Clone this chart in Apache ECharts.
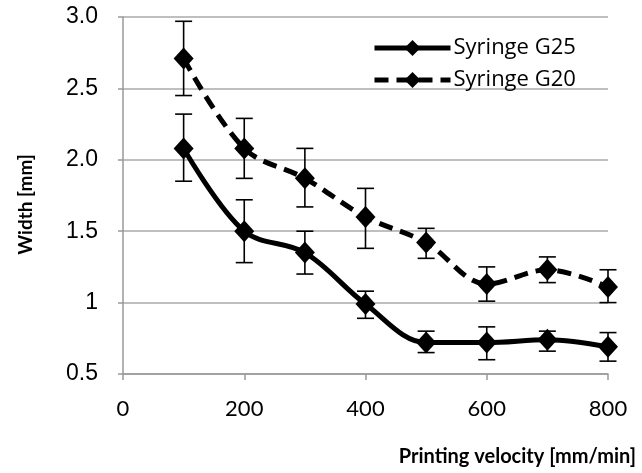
<!DOCTYPE html>
<html>
<head>
<meta charset="utf-8">
<script src="https://cdn.jsdelivr.net/npm/echarts@6/dist/echarts.min.js"></script>
<style>html,body{margin:0;padding:0;background:#fff}#c{width:642px;height:473px}</style>
</head>
<body>
<div id="c"></div>
<script>
var velocities = [100, 200, 300, 400, 500, 600, 700, 800];
var g25 = [2.08, 1.50, 1.35, 0.99, 0.72, 0.72, 0.74, 0.69];
var g25Low = [1.85, 1.28, 1.20, 0.89, 0.65, 0.60, 0.66, 0.59];
var g25High = [2.32, 1.72, 1.50, 1.08, 0.80, 0.83, 0.80, 0.79];
var g20 = [2.71, 2.08, 1.87, 1.60, 1.42, 1.13, 1.23, 1.11];
var g20Low = [2.45, 1.87, 1.67, 1.38, 1.31, 1.01, 1.14, 1.00];
var g20High = [2.97, 2.29, 2.08, 1.80, 1.52, 1.25, 1.32, 1.23];
var yTickValues = [0.5, 1, 1.5, 2, 2.5, 3];
var yTickLabels = ['0.5', '1', '1.5', '2.0', '2.5', '3.0'];

function pairs(xs, ys) { return xs.map(function (x, i) { return [x, ys[i]]; }); }
function errData(xs, lo, hi) { return xs.map(function (x, i) { return [x, lo[i], hi[i]]; }); }

function errRender(params, api) {
  var x = api.value(0), lo = api.value(1), hi = api.value(2);
  var pLo = api.coord([x, lo]), pHi = api.coord([x, hi]);
  var hw = 8.5;
  var st = { stroke: '#000', lineWidth: 1.6 };
  return {
    type: 'group',
    children: [
      { type: 'line', shape: { x1: pLo[0], y1: pLo[1], x2: pHi[0], y2: pHi[1] }, style: st },
      { type: 'line', shape: { x1: pLo[0] - hw, y1: pLo[1], x2: pLo[0] + hw, y2: pLo[1] }, style: st },
      { type: 'line', shape: { x1: pHi[0] - hw, y1: pHi[1], x2: pHi[0] + hw, y2: pHi[1] }, style: st }
    ]
  };
}

var chart = echarts.init(document.getElementById('c'), null, { renderer: 'canvas' });
chart.setOption({
  animation: false,
  backgroundColor: '#fff',
  grid: { left: 123, right: 34, top: 17, bottom: 99, containLabel: false },
  legend: {
    left: 367, top: 32, orient: 'vertical', itemWidth: 76, itemHeight: 20, itemGap: 10,
    lineStyle: { width: 5 },
    textStyle: { fontFamily: 'Open Sans', fontSize: 22, color: '#000', padding: [0, 0, 0, -2] },
    data: ['Syringe G25', 'Syringe G20']
  },
  xAxis: {
    type: 'value', min: 0, max: 800, interval: 200,
    name: 'Printing velocity [mm/min]', nameLocation: 'end',
    nameGap: 0,
    nameTextStyle: { fontFamily: 'Lato', fontWeight: 'bold', fontSize: 20, color: '#000', align: 'right', verticalAlign: 'top', padding: [73, -28, 0, 0] },
    axisLine: { lineStyle: { color: '#999', width: 1.5 } },
    axisTick: { show: true, length: 6, lineStyle: { color: '#999', width: 1.5 } },
    axisLabel: { fontFamily: 'Lato', fontSize: 22, color: '#000', margin: 24 },
    splitLine: { show: false }
  },
  yAxis: {
    type: 'value', min: 0.5, max: 3.0, interval: 0.5,
    name: 'Width [mm]', nameLocation: 'middle', nameGap: 88,
    nameTextStyle: { fontFamily: 'Lato', fontWeight: 'bold', fontSize: 19, color: '#000', padding: [0, 0, 0, -18] },
    axisLine: { show: true, lineStyle: { color: '#999', width: 1.5 } },
    axisTick: { show: true, length: 5, lineStyle: { color: '#999', width: 1.5 } },
    axisLabel: {
      fontFamily: 'Liberation Sans', fontSize: 23, color: '#000', margin: 25,
      formatter: function (v) {
        for (var i = 0; i < yTickValues.length; i++) if (Math.abs(yTickValues[i] - v) < 1e-9) return yTickLabels[i];
        return '';
      }
    },
    splitLine: { show: true, lineStyle: { color: '#aaa', width: 1.5 } }
  },
  series: [
    {
      name: 'Syringe G25', type: 'line', data: pairs(velocities, g25), smooth: 0.35,
      symbol: 'diamond', symbolSize: [20, 22], z: 3,
      lineStyle: { color: '#000', width: 5 }, itemStyle: { color: '#000' }
    },
    {
      name: 'Syringe G20', type: 'line', data: pairs(velocities, g20), smooth: 0.35,
      symbol: 'diamond', symbolSize: [20, 22], z: 3,
      lineStyle: { color: '#000', width: 5, type: [14, 8] }, itemStyle: { color: '#000' }
    },
    { type: 'custom', renderItem: errRender, data: errData(velocities, g25Low, g25High), z: 4, silent: true },
    { type: 'custom', renderItem: errRender, data: errData(velocities, g20Low, g20High), z: 4, silent: true }
  ]
});
</script>
</body>
</html>
